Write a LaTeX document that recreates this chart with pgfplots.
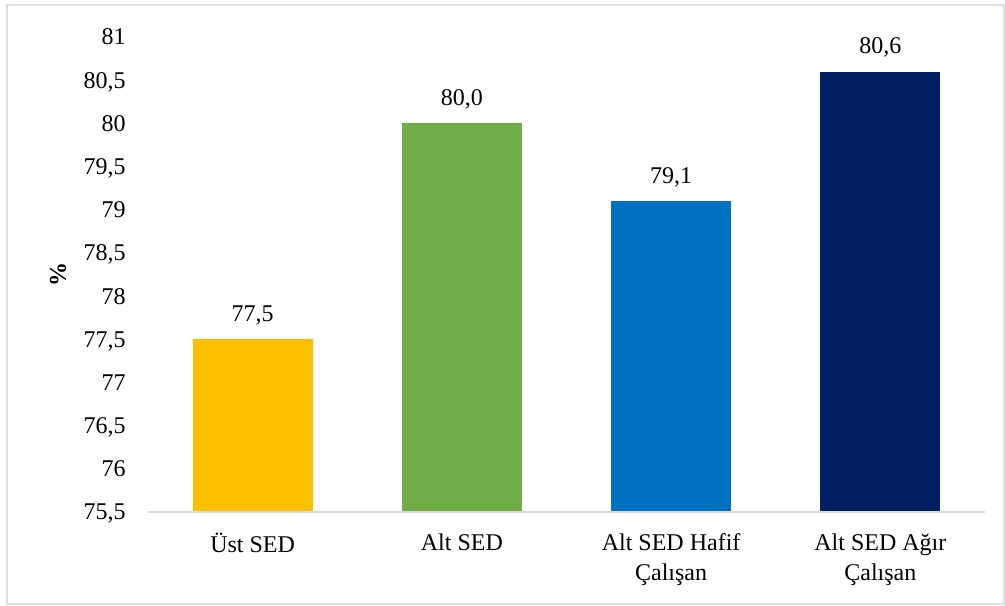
\documentclass[border=0pt]{standalone}
\usepackage{pgfplots}
\pgfplotsset{compat=1.18}
\usepackage{fontspec}
\setmainfont{Liberation Serif}

\definecolor{barA}{HTML}{FFC000}
\definecolor{barB}{HTML}{70AD47}
\definecolor{barC}{HTML}{0070C0}
\definecolor{barD}{HTML}{002060}
\definecolor{gridgray}{HTML}{D9D9D9}
\definecolor{framegray}{HTML}{DCE1E8}

\begin{document}
\fontsize{12bp}{15bp}\selectfont
\begin{tikzpicture}
  % page area and chart frame
  \path[use as bounding box] (0,0) rectangle (502.5bp,303bp);
  \draw[framegray, line width=1.2bp] (3.5bp,1bp) rectangle (502bp,300.5bp);

  \begin{axis}[
    at={(74bp,47bp)}, anchor=south west,
    scale only axis,
    width=418.5bp, height=237.5bp,
    xmin=-0.5, xmax=3.5,
    ymin=75.5, ymax=81,
    ytick={75.5,76,...,81},
    xtick={0,1,2,3},
    xticklabels={{Üst SED},{Alt SED},{Alt SED Hafif\\Çalışan},{Alt SED Ağır\\Çalışan}},
    axis line style={draw=none},
    axis x line*=bottom,
    axis y line*=left,
    major tick length=0pt,
    tick style={draw=none},
    /pgf/number format/.cd, use comma, assume math mode=true,
    /pgfplots/.cd,
    yticklabel style={anchor=east, inner sep=0pt, text depth=0pt, xshift=-11bp,
      font=\fontsize{12bp}{15bp}\selectfont},
    xticklabel style={anchor=north, inner sep=0pt, yshift=-10.5bp, align=center,
      font=\fontsize{12bp}{15bp}\selectfont},
    ylabel={\textbf{\%}},
    ylabel style={at={(axis description cs:-0.1075,0.5)}, anchor=center, rotate=0,
      font=\fontsize{12bp}{15bp}\selectfont},
    bar width=60bp,
    ybar, bar shift=0pt,
    nodes near coords,
    nodes near coords style={anchor=base, inner sep=0pt, yshift=9bp,
      font=\fontsize{12bp}{15bp}\selectfont,
      /pgf/number format/.cd, fixed, fixed zerofill, precision=1, use comma, assume math mode=true},
    clip=false,
  ]
    \addplot[fill=barA, draw=none] coordinates {(0,77.5)};
    \addplot[fill=barB, draw=none] coordinates {(1,80.0)};
    \addplot[fill=barC, draw=none] coordinates {(2,79.1)};
    \addplot[fill=barD, draw=none] coordinates {(3,80.6)};
    % category axis line
    \draw[gridgray, line width=1.2bp] (axis cs:-0.5,75.5) -- (axis cs:3.5,75.5);
  \end{axis}
\end{tikzpicture}
\end{document}
